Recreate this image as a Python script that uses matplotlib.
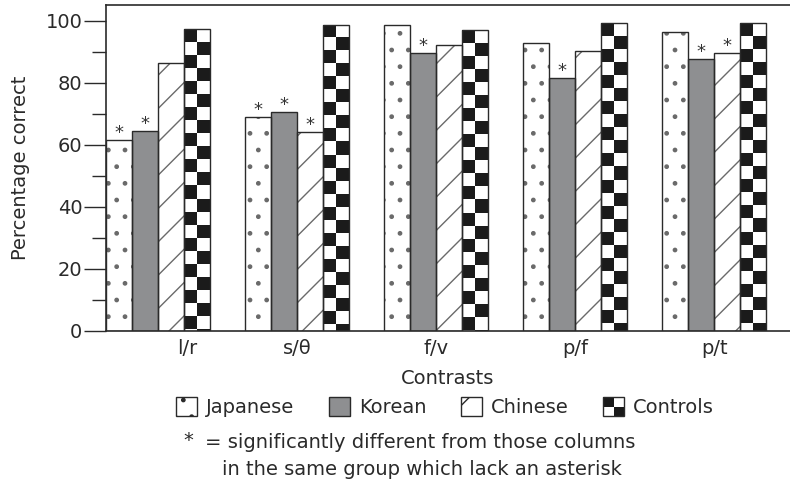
import numpy as np
import matplotlib
matplotlib.use("Agg")
import matplotlib.pyplot as plt
from matplotlib.patches import Patch, Rectangle
from matplotlib.legend_handler import HandlerBase
from matplotlib.ticker import MultipleLocator

# contrasts along the x axis
contrasts = ["l/r", "s/\u03b8", "f/v", "p/f", "p/t"]
groups = ["Japanese", "Korean", "Chinese", "Controls"]

# percentage correct per group, one value per contrast
japanese = [61.6, 68.9, 98.5, 92.8, 96.2]
korean = [64.3, 70.5, 89.4, 81.4, 87.5]
chinese = [86.4, 64.0, 92.1, 90.1, 89.4]
controls = [97.2, 98.7, 96.9, 99.1, 99.2]

# asterisks: significantly different from columns lacking one
sig_japanese = [True, True, False, False, False]
sig_korean = [True, True, True, True, True]
sig_chinese = [False, True, False, False, True]
sig_controls = [False, False, False, False, False]

plt.rcParams["font.family"] = "DejaVu Sans"
plt.rcParams["hatch.color"] = "#6a6a6a"
plt.rcParams["hatch.linewidth"] = 1.0

EDGE = "#2a2a2a"
KOREAN_GRAY = "#8e8f91"
FS = 14


class CheckerHandler(HandlerBase):
    """2x2 checkerboard square for the Controls legend entry."""

    def create_artists(self, legend, orig_handle, xdescent, ydescent,
                       width, height, fontsize, trans):
        hw, hh = width / 2.0, height / 2.0
        out = []
        for i in range(2):
            for j in range(2):
                col = "#1a1a1a" if (i + j) % 2 == 1 else "white"
                out.append(Rectangle((-xdescent + i * hw, -ydescent + j * hh),
                                     hw, hh, facecolor=col, edgecolor="none",
                                     transform=trans))
        out.append(Rectangle((-xdescent, -ydescent), width, height,
                             fill=False, edgecolor=EDGE, linewidth=1.0,
                             transform=trans))
        return out


fig = plt.figure(figsize=(7.9, 4.99), dpi=100)
ax = fig.add_axes([0.1342, 0.3367, 0.8658, 0.6533])

x = np.arange(len(contrasts))
w = 0.1875
series = [japanese, korean, chinese, controls]
sigs = [sig_japanese, sig_korean, sig_chinese, sig_controls]
offsets = (np.arange(4) - 1.5) * w

ax.set_xlim(-0.375, 4.545)
ax.set_ylim(0, 105)

# Japanese: sparse dots
ax.bar(x + offsets[0], japanese, w, color="white", hatch=".", linewidth=0, zorder=1)
# Korean: solid grey
ax.bar(x + offsets[1], korean, w, color=KOREAN_GRAY, linewidth=0, zorder=1)
# Chinese: diagonal lines
ax.bar(x + offsets[2], chinese, w, color="white", hatch="/", linewidth=0, zorder=1)
# Controls: checkerboard images clipped to the bars
ctrl_bars = ax.bar(x + offsets[3], controls, w, color="white", linewidth=0, zorder=1)

# checker square: half a bar wide, made square in pixels
fig.canvas.draw()
px_x = ax.transData.transform((1, 0))[0] - ax.transData.transform((0, 0))[0]
px_y = ax.transData.transform((0, 1))[1] - ax.transData.transform((0, 0))[1]
sq_h = (w / 2.0) * px_x / px_y
for bar in ctrl_bars:
    h = bar.get_height()
    nrows = int(np.ceil(h / sq_h))
    rr, cc = np.mgrid[0:nrows, 0:2]
    board = (rr + cc + 1) % 2
    im = ax.imshow(board, cmap="gray_r", vmin=0, vmax=1.12, aspect="auto",
                   interpolation="nearest", origin="upper",
                   extent=(bar.get_x(), bar.get_x() + bar.get_width(),
                           h - nrows * sq_h, h), zorder=1.5)
    im.set_clip_path(bar)

# outlines + asterisks
for k, vals in enumerate(series):
    ax.bar(x + offsets[k], vals, w, fill=False, edgecolor=EDGE,
           linewidth=1.0, zorder=2)
    for xi, v, s in zip(x + offsets[k], vals, sigs[k]):
        if s:
            ax.annotate("*", (xi, v), xytext=(0, 1.5), textcoords="offset points",
                        ha="center", va="baseline", fontsize=13, color="#333333")

ax.set_xlim(-0.375, 4.545)
ax.set_ylim(0, 105)

# first label sits off-centre in the original
label_shift = [0.21, 0, 0, 0, 0]
ax.set_xticks(x + np.array(label_shift))
ax.set_xticklabels(contrasts, fontsize=FS, color="#2a2a2a")
ax.tick_params(axis="x", length=0, pad=6)

ax.yaxis.set_major_locator(MultipleLocator(20))
ax.yaxis.set_minor_locator(MultipleLocator(10))
ax.tick_params(axis="y", which="major", length=16, width=1.0, pad=1,
               labelsize=FS, color=EDGE, labelcolor="#2a2a2a")
ax.tick_params(axis="y", which="minor", length=10, width=1.0, color=EDGE)

for side in ("left", "bottom", "top"):
    ax.spines[side].set_color(EDGE)
    ax.spines[side].set_linewidth(1.2)
ax.spines["right"].set_visible(False)

ax.set_xlabel("Contrasts", fontsize=FS, color="#2a2a2a", labelpad=8)
ax.set_ylabel("Percentage correct", fontsize=FS, color="#2a2a2a", labelpad=11)

handles = [
    Patch(facecolor="white", edgecolor=EDGE, hatch=".", linewidth=1.0),
    Patch(facecolor=KOREAN_GRAY, edgecolor=EDGE, linewidth=1.0),
    Patch(facecolor="white", edgecolor=EDGE, hatch="/", linewidth=1.0),
    Patch(facecolor="white", edgecolor=EDGE),
]
fig.legend(handles, groups, loc="center", bbox_to_anchor=(0.5633, 0.184),
           ncol=4, frameon=False, fontsize=FS, handlelength=1.1,
           handleheight=1.1, handletextpad=0.45, columnspacing=1.77,
           labelcolor="#2a2a2a",
           handler_map={handles[3]: CheckerHandler()})

fig.text(0.232, 0.117, "*", fontsize=FS, color="#2a2a2a", ha="left", va="center")
fig.text(0.260, 0.114, "= significantly different from those columns",
         fontsize=FS, color="#2a2a2a", ha="left", va="center")
fig.text(0.281, 0.060, "in the same group which lack an asterisk",
         fontsize=FS, color="#2a2a2a", ha="left", va="center")

fig.savefig("out.png", dpi=100)
